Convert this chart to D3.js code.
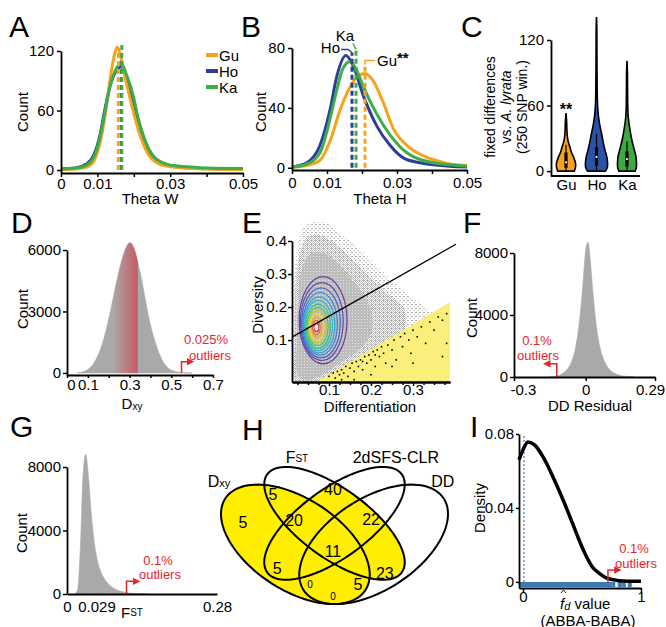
<!DOCTYPE html>
<html><head><meta charset="utf-8">
<script src="https://cdn.jsdelivr.net/npm/d3@7"></script>
<style>html,body{margin:0;padding:0;background:#fff;}svg{display:block;}</style>
</head><body>
<script>
// ================= DATA =================
const pops = ["Gu", "Ho", "Ka"];

// A – Theta W distributions [thetaW, count]
const thetaW_Gu = [[0,0.5],[0.004,1],[0.007,3],[0.009,9],[0.0107,27],[0.012,52],[0.0135,92],[0.0148,118],[0.0155,124],[0.0163,116],[0.0175,95],[0.019,72],[0.0205,50],[0.022,32],[0.0235,19],[0.025,11],[0.027,6],[0.029,4],[0.032,2.5],[0.036,1.5],[0.04,1],[0.05,0.5]];
const thetaW_Ho = [[0,1],[0.004,2],[0.007,6],[0.009,15],[0.0107,35],[0.012,60],[0.0135,85],[0.015,99],[0.0165,104],[0.018,92],[0.0199,70],[0.021,52],[0.0226,33],[0.024,21],[0.0254,13],[0.027,8],[0.029,5],[0.032,3],[0.036,2],[0.04,1.5],[0.05,1]];
const thetaW_Ka = [[0,1],[0.004,2],[0.007,5],[0.009,13],[0.0107,33],[0.012,57],[0.0135,85],[0.015,101],[0.0165,108],[0.018,96],[0.0199,74],[0.021,55],[0.0226,35],[0.024,22],[0.0254,14],[0.027,9],[0.029,6],[0.032,4],[0.036,3],[0.04,2],[0.05,1.5]];
const thetaW_mean = [0.01575, 0.0166, 0.0167];
const thetaW_meanTop = [123, 110, 126];
const thetaTicks = [0, 0.01, 0.02, 0.03, 0.04, 0.05];
const thetaTickLabels = ["0", "0.01", "", "0.03", "", "0.05"];
const countTicksA = [0, 60, 120];

// B – Theta H distributions
const thetaH_Gu = [[0,0.3],[0.0042,1.5],[0.008,5],[0.0109,18],[0.0138,39],[0.0166,54],[0.0188,61],[0.0208,63],[0.0232,58],[0.026,44],[0.029,26],[0.0328,15],[0.0366,9],[0.041,5],[0.045,2.5],[0.05,1.5]];
const thetaH_Ho = [[0,0.5],[0.0042,3.3],[0.008,15],[0.0109,39],[0.0128,61],[0.0154,75],[0.0175,68],[0.0204,48],[0.0242,28],[0.028,15],[0.0318,6.6],[0.0366,3.3],[0.045,1],[0.05,0.5]];
const thetaH_Ka = [[0,0.5],[0.0042,2.5],[0.008,10],[0.0109,33],[0.0128,52],[0.0145,66],[0.0166,71],[0.0185,65],[0.0204,54],[0.0242,36],[0.028,22],[0.0318,12],[0.0366,5.5],[0.045,2],[0.05,1]];
const thetaH_mean = [0.02086, 0.01714, 0.01829];
const thetaH_meanTop = [69, 77, 79];
const countTicksB = [0, 40, 80];

// C – fixed differences vs A. lyrata (violin: [value, relative density])
const violin_Gu = [[0,0.75],[3,0.85],[6,0.88],[9,0.82],[13,0.68],[17,0.5],[22,0.36],[27,0.2],[32,0.12],[38,0.08],[45,0.06],[53,0]];
const violin_Ho = [[0,0.82],[4,1.0],[8,1.0],[13,0.94],[20,0.75],[28,0.58],[35,0.45],[42,0.3],[50,0.18],[60,0.1],[70,0.07],[90,0.05],[110,0.04],[130,0.03],[141,0]];
const violin_Ka = [[0,0.75],[4,0.86],[8,0.86],[13,0.82],[20,0.65],[28,0.45],[35,0.32],[41,0.22],[50,0.11],[60,0.07],[75,0.05],[90,0.04],[101,0]];
const fixedBox = [[0,3,8,17,24],[0,5,13,22,34],[0,4,11,18,27]]; // whiskerLo, q1, median, q3, whiskerHi
const fixedTicks = [0, 60, 120];

// D – Dxy histogram
const dxyBins = [0.05,0.06,0.07,0.08,0.09,0.10,0.11,0.12,0.13,0.14,0.15,0.16,0.17,0.18,0.19,0.20,0.21,0.22,0.23,0.24,0.25,0.26,0.27,0.28,0.29,0.30,0.31,0.32,0.33,0.34,0.35,0.36,0.37,0.38,0.39,0.40,0.41,0.42,0.43,0.44,0.45,0.46,0.47,0.48,0.49,0.50,0.51,0.52,0.53,0.54,0.55,0.56,0.57,0.58,0.59,0.60];
const dxyCounts = [10,20,40,70,110,170,250,360,500,680,900,1150,1450,1800,2200,2650,3100,3600,4100,4550,5000,5400,5750,6050,6250,6350,6300,6100,5800,5400,4950,4450,3900,3350,2800,2350,1950,1600,1300,1000,760,560,410,290,200,140,100,70,45,30,20,12,8,5,3,2];
const dxyHighlight = [0.22, 0.338];
const dxyOutlierCut = 0.549;
const dxyTicks = [0,0.1,0.2,0.3,0.4,0.5,0.6,0.7];
const dxyTickLabels = ["0","0.1","","0.3","","0.5","","0.7"];
const countTicksD = [0, 3000, 6000];

// E – diversity vs differentiation
const eCloudOuter = [[0.02,-0.03],[0.014,0.1],[0.016,0.25],[0.025,0.38],[0.04,0.44],[0.07,0.46],[0.1,0.45],[0.13,0.42],[0.17,0.38],[0.21,0.33],[0.25,0.28],[0.29,0.235],[0.33,0.2],[0.35,0.17],[0.2,0.07],[0.07,-0.03]];
const eCloudMid = [[0.022,-0.025],[0.018,0.1],[0.02,0.25],[0.028,0.35],[0.045,0.405],[0.07,0.42],[0.1,0.405],[0.13,0.375],[0.165,0.335],[0.2,0.29],[0.24,0.24],[0.28,0.19],[0.27,0.1],[0.2,0.05],[0.15,0.02],[0.09,-0.025]];
const eCloudCore = [[0.028,-0.01],[0.024,0.1],[0.027,0.24],[0.036,0.32],[0.055,0.36],[0.085,0.365],[0.115,0.34],[0.145,0.3],[0.175,0.25],[0.2,0.19],[0.2,0.12],[0.17,0.07],[0.13,0.035],[0.085,-0.005],[0.05,-0.02]];
const eContourCx = [0.086,0.083,0.081,0.079,0.077,0.075,0.074,0.073,0.072,0.071,0.071,0.070,0.070];
const eContourCy = [0.160,0.156,0.152,0.149,0.146,0.144,0.142,0.141,0.140,0.139,0.139,0.138,0.138];
const eContourRx = [0.057,0.051,0.046,0.041,0.037,0.033,0.029,0.025,0.021,0.017,0.013,0.009,0.005];
const eContourRy = [0.132,0.118,0.106,0.095,0.085,0.076,0.067,0.058,0.049,0.040,0.031,0.022,0.012];
const eFit = [[0.012,0.109],[0.402,0.39]];
const eYellow = [[0.071,-0.027],[0.388,0.215],[0.388,-0.027]];
const eOutliers = [[0.10,-0.01],[0.11,0.0],[0.115,-0.015],[0.12,0.005],[0.125,-0.005],[0.13,0.01],[0.135,0.0],[0.14,0.02],[0.145,-0.01],[0.15,0.015],[0.155,0.03],[0.16,0.005],[0.165,0.035],[0.17,0.02],[0.175,0.04],[0.18,0.01],[0.185,0.05],[0.19,0.03],[0.195,0.055],[0.2,0.04],[0.205,0.065],[0.21,0.02],[0.215,0.07],[0.22,0.05],[0.225,0.08],[0.23,0.06],[0.235,0.03],[0.24,0.085],[0.25,0.07],[0.255,0.1],[0.26,0.04],[0.27,0.11],[0.275,0.08],[0.28,0.12],[0.29,0.1],[0.295,0.06],[0.3,0.13],[0.31,0.11],[0.32,0.14],[0.33,0.09],[0.34,0.155],[0.35,0.13],[0.36,0.17],[0.37,0.05],[0.37,0.16],[0.38,0.18],[0.38,0.09],[0.16,-0.02],[0.2,-0.005],[0.25,0.02],[0.3,0.03],[0.13,-0.02],[0.18,0.035],[0.21,0.055]];
const eXTicks = [0.1, 0.2, 0.3];
const eXMinor = [0.025,0.05,0.075,0.125,0.15,0.175,0.225,0.25,0.275,0.325,0.35,0.375];
const eYTicks = [0.1, 0.2, 0.3, 0.4];

// F – DD residual histogram
const ddBins = [-0.15,-0.14,-0.13,-0.12,-0.11,-0.10,-0.09,-0.08,-0.07,-0.06,-0.05,-0.04,-0.03,-0.02,-0.01,0.00,0.01,0.02,0.03,0.04,0.05,0.06,0.07,0.08,0.09,0.10,0.11,0.12,0.13,0.14,0.15,0.16,0.17,0.18,0.19,0.20];
const ddCounts = [10,20,40,70,120,200,300,450,650,950,1400,2100,3100,4500,6300,8200,8700,7400,5500,3900,2700,1900,1350,950,680,480,340,240,170,120,85,60,40,25,15,10];
const ddOutlierCut = -0.121;
const ddTicks = [-0.3, 0, 0.29];
const countTicksF = [0, 4000, 8000];

// G – FST histogram
const fstBins = [0.015,0.02,0.025,0.03,0.035,0.04,0.045,0.05,0.055,0.06,0.065,0.07,0.075,0.08,0.085,0.09,0.095,0.10,0.105,0.11,0.115,0.12,0.125,0.13,0.135,0.14,0.145,0.15];
const fstCounts = [20,300,3000,7500,8800,7400,5200,3500,2400,1700,1250,950,720,540,410,310,230,170,130,95,70,50,38,28,20,14,10,6];
const fstOutlierCut = 0.111;
const fstTicks = [0, 0.029, 0.28];
const countTicksG = [0, 4000, 8000];

// H – Venn diagram (ellipses in unit coords) and region counts
const vennNames = ["Dxy", "FST", "2dSFS-CLR", "DD"];
const vennCx = [0.35, 0.5, 0.5, 0.65];
const vennCy = [0.47, 0.57, 0.57, 0.47];
const vennA = [0.35, 0.35, 0.35, 0.35];
const vennB = [0.20, 0.15, 0.15, 0.20];
const vennRot = [135, 135, 45, 45];
const vennCounts = ["5","5","40","20","22","11","5","23","0","5","0"];
const vennCountPos = [[0.149,0.575],[0.264,0.706],[0.494,0.73],[0.345,0.584],[0.64,0.589],[0.494,0.434],[0.28,0.354],[0.693,0.33],[0.406,0.279],[0.59,0.279],[0.494,0.223]];
const vennLabelPos = [[0.057,0.772],[0.356,0.882],[0.735,0.882],[0.915,0.772]];

// I – fd density
const fdDensity = [[-0.034,0.066],[0.0,0.0715],[0.042,0.0757],[0.1,0.074],[0.17,0.0676],[0.254,0.0568],[0.34,0.0443],[0.424,0.031],[0.511,0.0173],[0.596,0.0074],[0.65,0.0045],[0.709,0.002],[0.8,0.0008],[0.9,0.0004],[1.0,0.0003]];
const fdRugDense = [-0.03, 0.75];
const fdRugSparse = [0.755,0.765,0.775,0.81,0.82,0.83,0.84,0.855,0.865,0.895,0.905,0.915];
const fdMean = 0.008;
const fdOutlierCut = 0.72;
const fdXTicks = [0, 1];
const fdYTicks = [0, 0.04, 0.08];

// ================= STYLE =================
const FONT = "'Liberation Sans', Arial, Helvetica, sans-serif";
const COL = {Gu: "#F7A21B", Ho: "#2E3D98", Ka: "#3BAE49"};
const COLC = {Gu: "#F7A21B", Ho: "#2A52A8", Ka: "#3DAA3F"};
const RED = "#E8232B";
const GRAY = "#A9A9A9";
const contourColors = ["#6a3d9a","#5b4cb0","#4a62c4","#3a7fd0","#2ea0dc","#22bcc8","#2fbf8a","#5cc44c","#a8d132","#f2dc22","#f9a51d","#f26522","#e31d1c"];

const svg = d3.select("body").append("svg").attr("width", 666).attr("height", 627).attr("font-family", FONT);
svg.append("rect").attr("width", 666).attr("height", 627).attr("fill", "#fff");
const defs = svg.append("defs");
defs.append("marker").attr("id", "arrow").attr("viewBox", "0 0 10 10").attr("refX", 5).attr("refY", 5)
  .attr("markerWidth", 5).attr("markerHeight", 5).attr("orient", "auto")
  .append("path").attr("d", "M0,0L10,5L0,10Z").attr("fill", RED);

function styleAxis(sel) {
  sel.select(".domain").attr("stroke", "#000").attr("stroke-width", 1.8);
  sel.selectAll(".tick line").attr("stroke", "#000").attr("stroke-width", 1.5);
  sel.selectAll(".tick text").attr("font-size", 15).attr("font-family", FONT).attr("fill", "#000");
}
function text(g, x, y, s, opt = {}) {
  const t = g.append("text").attr("x", x).attr("y", y).attr("font-size", opt.fs || 15)
    .attr("text-anchor", opt.anchor || "middle").attr("dominant-baseline", "central").attr("fill", opt.fill || "#000");
  if (opt.rot) t.attr("x", 0).attr("y", 0).attr("transform", `translate(${x},${y}) rotate(-90)`);
  if (opt.weight) t.attr("font-weight", opt.weight);
  t.text(s);
  return t;
}
function letter(x, y, s) { svg.append("text").attr("x", x).attr("y", y).attr("font-size", 30).attr("fill", "#000").text(s); }
function outlier(g, x0, yBase, yTop, dir, len) {
  g.append("path").attr("d", `M${x0},${yBase}V${yTop}H${x0 + dir * len}`).attr("fill", "none")
    .attr("stroke", RED).attr("stroke-width", 1.5).attr("marker-end", "url(#arrow)");
}
// histogram drawn as a filled area through bin centres (fine bins look continuous)
function histogram(g, x, y, bins, counts, fill) {
  const pts = bins.map((b, i) => [b, counts[i]]);
  g.append("path").attr("d", d3.area().x(d => x(d[0])).y0(y(0)).y1(d => y(d[1])).curve(d3.curveMonotoneX)(pts))
    .attr("fill", fill).attr("stroke", fill).attr("stroke-width", 0.6);
}

// ================= PANEL A =================
{
  const g = svg.append("g");
  const x = d3.scaleLinear().domain([0, 0.05]).range([61, 243]);
  const y = d3.scaleLinear().domain([-3, 120]).range([173, 51]);
  const ln = d3.line().x(d => x(d[0])).y(d => y(d[1])).curve(d3.curveMonotoneX);
  const series = {Gu: thetaW_Gu, Ho: thetaW_Ho, Ka: thetaW_Ka};
  ["Ho", "Gu", "Ka"].forEach(p => g.append("path").attr("d", ln(series[p])).attr("fill", "none").attr("stroke", COL[p]).attr("stroke-width", 3));
  [1, 0, 2].forEach(i => g.append("line").attr("x1", x(thetaW_mean[i])).attr("x2", x(thetaW_mean[i]))
    .attr("y1", y(0)).attr("y2", y(thetaW_meanTop[i])).attr("stroke", COL[pops[i]]).attr("stroke-width", 3).attr("stroke-dasharray", "5,3"));
  g.append("g").attr("transform", "translate(0,173)")
    .call(d3.axisBottom(x).tickValues(thetaTicks).tickFormat((d, i) => thetaTickLabels[i]).tickSize(4).tickSizeOuter(0).tickPadding(1)).call(styleAxis);
  g.append("g").attr("transform", "translate(61,0)")
    .call(d3.axisLeft(y).tickValues(countTicksA).tickFormat(d3.format("d")).tickSize(4).tickSizeOuter(0).tickPadding(3)).call(styleAxis);
  pops.forEach((p, i) => {
    g.append("line").attr("x1", 206).attr("x2", 218).attr("y1", 55 + 16 * i).attr("y2", 55 + 16 * i).attr("stroke", COL[p]).attr("stroke-width", 4);
    text(g, 219, 55 + 16 * i, p, {anchor: "start"});
  });
  text(g, 22, 112, "Count", {rot: true});
  text(g, 150, 198, "Theta W");
  letter(9, 37, "A");
}

// ================= PANEL B =================
{
  const g = svg.append("g");
  const x = d3.scaleLinear().domain([0, 0.05]).range([292, 467]);
  const y = d3.scaleLinear().domain([-1.5, 80]).range([170, 48]);
  const ln = d3.line().x(d => x(d[0])).y(d => y(d[1])).curve(d3.curveMonotoneX);
  const series = {Gu: thetaH_Gu, Ho: thetaH_Ho, Ka: thetaH_Ka};
  ["Gu", "Ho", "Ka"].forEach(p => g.append("path").attr("d", ln(series[p])).attr("fill", "none").attr("stroke", COL[p]).attr("stroke-width", 3));
  pops.forEach((p, i) => g.append("line").attr("x1", x(thetaH_mean[i])).attr("x2", x(thetaH_mean[i]))
    .attr("y1", y(0)).attr("y2", y(thetaH_meanTop[i])).attr("stroke", COL[p]).attr("stroke-width", 3).attr("stroke-dasharray", "5,3"));
  const hx = x(thetaH_mean[1]), hy = y(thetaH_meanTop[1]);
  g.append("path").attr("d", `M${hx},${hy}L${hx - 4},${hy - 3}H${hx - 11}`).attr("fill", "none").attr("stroke", COL.Ho).attr("stroke-width", 1.5);
  text(g, hx - 12, hy - 5, "Ho", {anchor: "end"});
  const kx = x(thetaH_mean[2]), ky = y(thetaH_meanTop[2]);
  g.append("path").attr("d", `M${kx},${ky}L${kx - 3},${ky - 6}`).attr("fill", "none").attr("stroke", COL.Ka).attr("stroke-width", 1.5);
  text(g, kx - 11, ky - 14, "Ka");
  const gx = x(thetaH_mean[0]), gy = y(thetaH_meanTop[0]);
  g.append("path").attr("d", `M${gx},${gy}V${gy - 4}H${gx + 10}`).attr("fill", "none").attr("stroke", COL.Gu).attr("stroke-width", 1.5);
  const gt = text(g, gx + 12, gy - 4, "Gu", {anchor: "start"});
  gt.append("tspan").attr("font-weight", "bold").attr("dy", -3).text("**");
  g.append("g").attr("transform", "translate(0,170)")
    .call(d3.axisBottom(x).tickValues(thetaTicks).tickFormat((d, i) => thetaTickLabels[i]).tickSize(4).tickSizeOuter(0).tickPadding(3)).call(styleAxis);
  g.append("g").attr("transform", "translate(292,0)")
    .call(d3.axisLeft(y).tickValues(countTicksB).tickFormat(d3.format("d")).tickSize(4).tickSizeOuter(0).tickPadding(3)).call(styleAxis);
  text(g, 260, 112, "Count", {rot: true});
  text(g, 380, 198, "Theta H");
  letter(241, 37, "B");
}

// ================= PANEL C =================
{
  const g = svg.append("g");
  const x = d3.scalePoint().domain(pops).range([566, 627]);
  const y = d3.scaleLinear().domain([-4.5, 120]).range([176, 40]);
  const w = d3.scaleLinear().domain([0, 1]).range([0, 11]);
  const vd = {Gu: violin_Gu, Ho: violin_Ho, Ka: violin_Ka};
  pops.forEach((p, i) => {
    const cx = x(p);
    const area = d3.area().y(d => y(d[0])).x0(d => cx - w(d[1])).x1(d => cx + w(d[1])).curve(d3.curveCatmullRom.alpha(0.5));
    g.append("path").attr("d", area(vd[p])).attr("fill", COLC[p]).attr("stroke", "#000").attr("stroke-width", 1.6);
    const b = fixedBox[i];
    g.append("line").attr("x1", cx).attr("x2", cx).attr("y1", y(b[0])).attr("y2", y(b[4])).attr("stroke", "#000").attr("stroke-width", 1.2);
    g.append("rect").attr("x", cx - 1.6).attr("width", 3.2).attr("y", y(b[3])).attr("height", y(b[1]) - y(b[3])).attr("fill", "#000");
    g.append("circle").attr("cx", cx).attr("cy", y(b[2])).attr("r", 1.1).attr("fill", "#fff");
  });
  text(g, x("Gu"), y(violin_Gu[violin_Gu.length - 1][0]) - 4, "**", {weight: "bold", fs: 16});
  g.append("g").attr("transform", "translate(551,0)")
    .call(d3.axisLeft(y).tickValues(fixedTicks).tickFormat(d3.format("d")).tickSize(4).tickSizeOuter(0).tickPadding(3)).call(styleAxis);
  const xa = g.append("g").attr("transform", "translate(0,176)").call(d3.axisBottom(x).tickSize(0).tickPadding(3)).call(styleAxis);
  xa.select(".domain").remove();
  g.append("line").attr("x1", 551).attr("x2", 640).attr("y1", 176).attr("y2", 176).attr("stroke", "#000").attr("stroke-width", 1.8);
  text(g, 490, 107, "fixed differences", {rot: true, fs: 14});
  const t2 = text(g, 506, 107, "vs. ", {rot: true, fs: 14});
  t2.append("tspan").attr("font-style", "italic").text("A. lyrata");
  text(g, 522, 107, "(250 SNP win.)", {rot: true, fs: 14});
  letter(461, 37, "C");
}

// ================= PANEL D =================
{
  const g = svg.append("g");
  const x = d3.scaleLinear().domain([0, 0.7]).range([67, 213]);
  const y = d3.scaleLinear().domain([-100, 6000]).range([375, 250]);
  const grad = defs.append("linearGradient").attr("id", "gradD").attr("gradientUnits", "userSpaceOnUse")
    .attr("x1", x(0)).attr("x2", x(0.7)).attr("y1", 0).attr("y2", 0);
  const o = v => v / 0.7;
  grad.append("stop").attr("offset", 0).attr("stop-color", GRAY);
  grad.append("stop").attr("offset", o(dxyHighlight[0])).attr("stop-color", GRAY);
  grad.append("stop").attr("offset", o(dxyHighlight[1])).attr("stop-color", "#C65A64");
  grad.append("stop").attr("offset", o(dxyHighlight[1]) + 0.0001).attr("stop-color", GRAY);
  grad.append("stop").attr("offset", 1).attr("stop-color", GRAY);
  histogram(g, x, y, dxyBins, dxyCounts, "url(#gradD)");
  outlier(g, x(dxyOutlierCut), y(0), y(550), 1, 9);
  text(g, 206, 339, "0.025%", {fill: RED, fs: 13});
  text(g, 210, 355, "outliers", {fill: RED, fs: 13});
  const ax = g.append("g").attr("transform", "translate(0,375)")
    .call(d3.axisBottom(x).tickValues(dxyTicks).tickFormat((d, i) => dxyTickLabels[i]).tickSize(3).tickSizeOuter(0).tickPadding(1)).call(styleAxis);
  ax.selectAll(".tick text").filter(d => d === 0).attr("dx", 4);
  g.append("g").attr("transform", "translate(67,0)")
    .call(d3.axisLeft(y).tickValues(countTicksD).tickFormat(d3.format("d")).tickSize(4).tickSizeOuter(0).tickPadding(2)).call(styleAxis);
  text(g, 22, 309, "Count", {rot: true});
  const t = text(g, 132, 403, "D");
  t.append("tspan").attr("font-size", 10).attr("dy", 3).text("xy");
  letter(11, 233, "D");
}

// ================= PANEL E =================
{
  const g = svg.append("g");
  const x = d3.scaleLinear().domain([0.012, 0.388]).range([292, 450]);
  const y = d3.scaleLinear().domain([-0.027, 0.4]).range([382, 241]);
  const mk = (id, size, bg, dots, dc) => {
    const p = defs.append("pattern").attr("id", id).attr("width", size).attr("height", size).attr("patternUnits", "userSpaceOnUse");
    if (bg) p.append("rect").attr("width", size).attr("height", size).attr("fill", bg);
    dots.forEach(([a, b]) => p.append("rect").attr("x", a).attr("y", b).attr("width", 1).attr("height", 1).attr("fill", dc));
  };
  mk("pSparse", 4, null, [[0,0],[2,2],[3,0]], "#b2b2b2");
  mk("pMid", 2, null, [[0,0],[1,1]], "#b6b6b6");
  mk("pDense", 3, "#bdbdbd", [[1,1]], "#e4e4e4");
  const clip = defs.append("clipPath").attr("id", "clipE");
  clip.append("rect").attr("x", 293).attr("y", 210).attr("width", 160).attr("height", 172);
  const cg = g.append("g").attr("clip-path", "url(#clipE)");
  const poly = d3.line().x(d => x(d[0])).y(d => y(d[1])).curve(d3.curveCatmullRomClosed);
  cg.append("path").attr("d", poly(eCloudOuter)).attr("fill", "url(#pSparse)");
  cg.append("path").attr("d", poly(eCloudMid)).attr("fill", "url(#pMid)");
  cg.append("path").attr("d", poly(eCloudCore)).attr("fill", "url(#pDense)");
  cg.append("path").attr("d", d3.line().x(d => x(d[0])).y(d => y(d[1]))(eYellow) + "Z").attr("fill", "#FBEF7C");
  cg.selectAll(null).data(eOutliers).join("rect").attr("x", d => x(d[0]) - 0.8).attr("y", d => y(d[1]) - 0.8)
    .attr("width", 1.6).attr("height", 1.6).attr("fill", "#000");
  eContourRx.forEach((rx, i) => {
    g.append("ellipse").attr("cx", x(eContourCx[i])).attr("cy", y(eContourCy[i]))
      .attr("rx", x(eContourCx[i] + rx) - x(eContourCx[i])).attr("ry", y(eContourCy[i]) - y(eContourCy[i] + eContourRy[i]))
      .attr("fill", "none").attr("stroke", contourColors[i]).attr("stroke-width", 1.2);
  });
  g.append("ellipse").attr("cx", x(0.07)).attr("cy", y(0.138)).attr("rx", 2).attr("ry", 3).attr("fill", "#eee");
  g.append("line").attr("x1", x(eFit[0][0])).attr("y1", y(eFit[0][1])).attr("x2", x(eFit[1][0])).attr("y2", y(eFit[1][1]))
    .attr("stroke", "#000").attr("stroke-width", 1.3);
  g.append("g").attr("transform", "translate(0,382)")
    .call(d3.axisBottom(x).tickValues(eXMinor).tickFormat("").tickSize(3).tickSizeOuter(0)).call(styleAxis);
  g.append("g").attr("transform", "translate(0,382)")
    .call(d3.axisBottom(x).tickValues(eXTicks).tickFormat(d3.format(".1f")).tickSize(4).tickSizeOuter(0).tickPadding(-2)).call(styleAxis);
  g.append("g").attr("transform", "translate(292,0)")
    .call(d3.axisLeft(y).tickValues(eYTicks).tickFormat(d3.format(".1f")).tickSize(4).tickSizeOuter(0).tickPadding(1)).call(styleAxis);
  text(g, 257, 305, "Diversity", {rot: true});
  text(g, 370, 406, "Differentiation");
  letter(242, 233, "E");
}

// ================= PANEL F =================
{
  const g = svg.append("g");
  const x = d3.scaleLinear().domain([-0.3, 0.29]).range([514, 655]);
  const y = d3.scaleLinear().domain([0, 8000]).range([377, 253]);
  histogram(g, x, y, ddBins, ddCounts, GRAY);
  outlier(g, x(ddOutlierCut), y(0), y(850), -1, 10);
  text(g, 537, 340, "0.1%", {fill: RED, fs: 13});
  text(g, 538, 355, "outliers", {fill: RED, fs: 13});
  const ax = g.append("g").attr("transform", "translate(0,377)")
    .call(d3.axisBottom(x).tickValues(ddTicks).tickFormat(d => d === 0 ? "0" : String(d)).tickSize(4).tickSizeOuter(0).tickPadding(3)).call(styleAxis);
  ax.selectAll(".tick text").filter(d => d === -0.3).attr("dx", 9);
  ax.selectAll(".tick text").filter(d => d === 0.29).attr("dx", -5);
  g.append("g").attr("transform", "translate(514,0)")
    .call(d3.axisLeft(y).tickValues(countTicksF).tickFormat(d3.format("d")).tickSize(4).tickSizeOuter(0).tickPadding(2)).call(styleAxis);
  text(g, 471, 318, "Count", {rot: true});
  text(g, 590, 405, "DD Residual");
  letter(463, 233, "F");
}

// ================= PANEL G =================
{
  const g = svg.append("g");
  const x = d3.scaleLinear().domain([0, 0.28]).range([67, 217]);
  const y = d3.scaleLinear().domain([0, 8000]).range([594, 467]);
  histogram(g, x, y, fstBins, fstCounts, GRAY);
  outlier(g, x(fstOutlierCut), y(0), y(800), 1, 10);
  text(g, 158, 560, "0.1%", {fill: RED, fs: 13});
  text(g, 160, 574, "outliers", {fill: RED, fs: 13});
  const ax = g.append("g").attr("transform", "translate(0,594)")
    .call(d3.axisBottom(x).tickValues(fstTicks).tickFormat(d => d === 0 ? "0" : String(d)).tickSize(0).tickPadding(7)).call(styleAxis);
  ax.selectAll(".tick text").filter(d => d === 0.029).attr("dx", 14);
  g.append("g").attr("transform", "translate(67,0)")
    .call(d3.axisLeft(y).tickValues(countTicksG).tickFormat(d3.format("d")).tickSize(4).tickSizeOuter(0).tickPadding(2)).call(styleAxis);
  text(g, 21, 533, "Count", {rot: true});
  const t = text(g, 132, 612, "F");
  t.append("tspan").attr("font-size", 10).text("ST");
  letter(10, 437, "G");
}

// ================= PANEL H =================
{
  const g = svg.append("g");
  const x = d3.scaleLinear().domain([0.065, 0.935]).range([221, 448]);
  const y = d3.scaleLinear().domain([0.185, 0.839]).range([604, 467]);
  const ellipse = i => {
    const th = vennRot[i] * Math.PI / 180, pts = [];
    for (let k = 0; k < 120; k++) {
      const t = k / 120 * 2 * Math.PI;
      const ex = vennA[i] * Math.cos(t), ey = vennB[i] * Math.sin(t);
      pts.push([x(vennCx[i] + ex * Math.cos(th) - ey * Math.sin(th)), y(vennCy[i] + ex * Math.sin(th) + ey * Math.cos(th))]);
    }
    return d3.line().curve(d3.curveLinearClosed)(pts);
  };
  const YEL = "#FFEE00";
  defs.append("clipPath").attr("id", "clipFst").append("path").attr("d", ellipse(1));
  g.append("path").attr("d", ellipse(0)).attr("fill", YEL);
  g.append("path").attr("d", ellipse(2)).attr("fill", YEL).attr("clip-path", "url(#clipFst)");
  g.append("path").attr("d", ellipse(3)).attr("fill", YEL).attr("clip-path", "url(#clipFst)");
  [0, 1, 2, 3].forEach(i => g.append("path").attr("d", ellipse(i)).attr("fill", "none").attr("stroke", "#000").attr("stroke-width", 2));
  vennCounts.forEach((c, i) => text(g, x(vennCountPos[i][0]), y(vennCountPos[i][1]), c, {fs: c === "0" ? 10 : 16}));
  const l0 = text(g, x(vennLabelPos[0][0]), y(vennLabelPos[0][1]), "D", {fs: 16});
  l0.append("tspan").attr("font-size", 11).attr("dy", 2).text("xy");
  const l1 = text(g, x(vennLabelPos[1][0]), y(vennLabelPos[1][1]), "F", {fs: 16});
  l1.append("tspan").attr("font-size", 10).text("ST");
  text(g, x(vennLabelPos[2][0]), y(vennLabelPos[2][1]), vennNames[2], {fs: 16});
  text(g, x(vennLabelPos[3][0]), y(vennLabelPos[3][1]), vennNames[3], {fs: 16});
  letter(242, 440, "H");
}

// ================= PANEL I =================
{
  const g = svg.append("g");
  const x = d3.scaleLinear().domain([-0.034, 1]).range([519, 641]);
  const y = d3.scaleLinear().domain([-0.0033, 0.08]).range([588, 434]);
  g.append("rect").attr("x", x(fdRugDense[0])).attr("width", x(fdRugDense[1]) - x(fdRugDense[0]))
    .attr("y", 582).attr("height", 5).attr("fill", "#3B78B4");
  g.selectAll(null).data(fdRugSparse).join("line").attr("x1", d => x(d)).attr("x2", d => x(d))
    .attr("y1", 582).attr("y2", 587).attr("stroke", "#3B78B4").attr("stroke-width", 1.6);
  g.append("line").attr("x1", x(fdMean)).attr("x2", x(fdMean)).attr("y1", y(0)).attr("y2", y(0.08))
    .attr("stroke", "#6F8FD8").attr("stroke-width", 1.5).attr("stroke-dasharray", "2,2");
  g.append("path").attr("d", d3.line().x(d => x(d[0])).y(d => y(d[1])).curve(d3.curveMonotoneX)(fdDensity))
    .attr("fill", "none").attr("stroke", "#000").attr("stroke-width", 3.5);
  outlier(g, x(fdOutlierCut), y(0), y(0.0065), 1, 10);
  text(g, 634, 548, "0.1%", {fill: RED, fs: 13});
  text(g, 636, 563, "outliers", {fill: RED, fs: 13});
  g.append("g").attr("transform", "translate(0,588)")
    .call(d3.axisBottom(x).tickValues(fdXTicks).tickFormat(d3.format("d")).tickSize(4).tickSizeOuter(0).tickPadding(-1)).call(styleAxis);
  g.append("g").attr("transform", "translate(519,0)")
    .call(d3.axisLeft(y).tickValues(fdYTicks).tickFormat(d => d === 0 ? "0" : d3.format(".2f")(d)).tickSize(3).tickSizeOuter(0).tickPadding(2)).call(styleAxis);
  text(g, 479, 508, "Density", {rot: true});
  const t = g.append("text").attr("x", 560).attr("y", 603).attr("font-size", 15).attr("dominant-baseline", "central");
  t.append("tspan").attr("font-style", "italic").text("f");
  t.append("tspan").attr("font-style", "italic").attr("font-size", 11).attr("dy", 3).text("d");
  t.append("tspan").attr("dy", -3).text(" value");
  g.append("path").attr("d", "M561,593L563.5,590L566,593").attr("fill", "none").attr("stroke", "#000").attr("stroke-width", 0.9);
  text(g, 588, 620, "(ABBA-BABA)");
  letter(470, 437, "I");
}
</script>
</body></html>
